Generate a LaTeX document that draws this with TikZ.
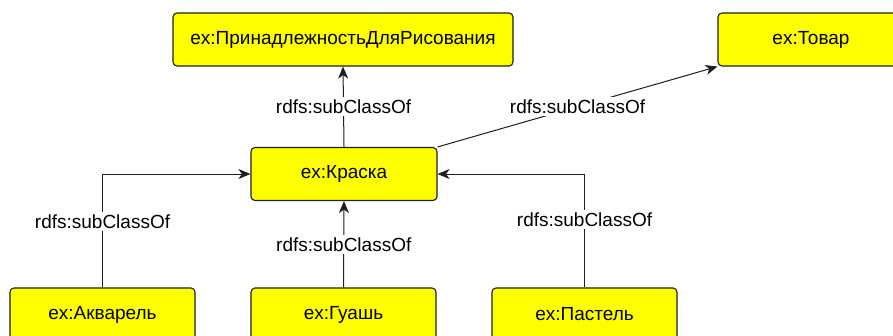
\documentclass[tikz,border=0pt]{standalone}
\usepackage{fontspec}
\setmainfont{Liberation Sans}
\usetikzlibrary{arrows.meta}
\definecolor{boxfill}{RGB}{255,255,0}
\definecolor{inkline}{RGB}{30,30,30}
\begin{document}
\begin{tikzpicture}[x=1pt,y=-1pt,
  classbox/.style={draw=inkline, fill=boxfill, line width=1.1pt, rounded corners=4pt,
    minimum width=186pt, minimum height=53pt, inner sep=0pt,
    font=\fontsize{19}{22}\selectfont, text=black},
  link/.style={draw=inkline, line width=1pt,
    -{Stealth[length=12pt,width=10pt,inset=3.5pt]}},
  lbl/.style={fill=white, inner sep=2.5pt, font=\fontsize{19}{22}\selectfont, text=black}]
\clip (0,0) rectangle (893,335);
\fill[white] (0,0) rectangle (893,335);

% classes
\node[classbox, minimum width=340pt] (acc) at (343,39.5) {ex:ПринадлежностьДляРисования};
\node[classbox] (tovar) at (811,39.5) {ex:Товар};
\node[classbox] (kraska) at (344,174) {ex:Краска};
\node[classbox, minimum width=185pt] (akv) at (102.5,314.5) {ex:Акварель};
\node[classbox, minimum width=185pt] (guash) at (343.5,314.5) {ex:Гуашь};
\node[classbox, minimum width=185pt] (pastel) at (584.5,314.5) {ex:Пастель};

% subclass relations
\draw[link] (kraska.north) -- node[lbl] {rdfs:subClassOf} (acc.south);
\draw[link] (kraska.north east) -- node[lbl] {rdfs:subClassOf} (tovar.south west);
\draw[link] (akv.north) |- node[lbl, pos=0.29] {rdfs:subClassOf} (kraska.west);
\draw[link] (guash.north) -- node[lbl] {rdfs:subClassOf} (kraska.south);
\draw[link] (pastel.north) |- node[lbl, pos=0.30] {rdfs:subClassOf} (kraska.east);
\end{tikzpicture}
\end{document}
